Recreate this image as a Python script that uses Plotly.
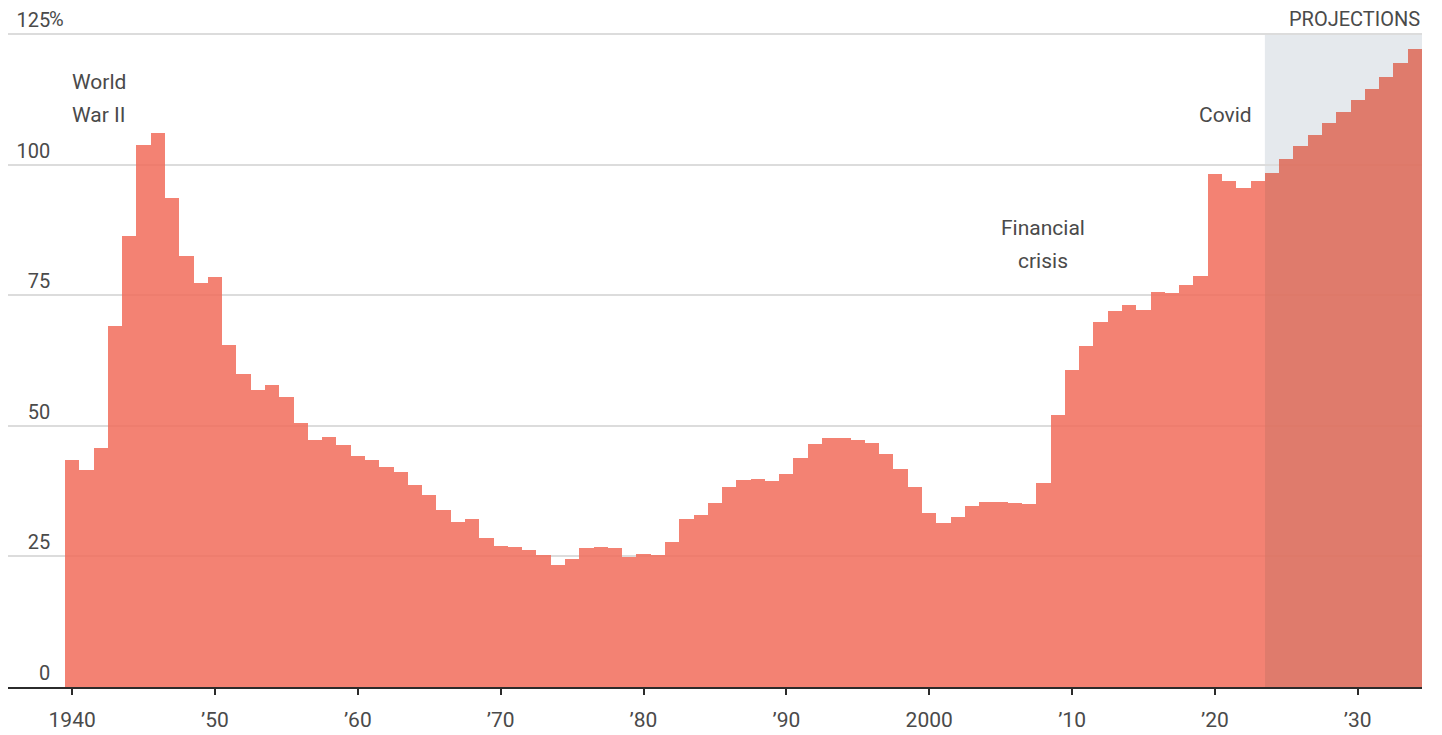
import plotly.graph_objects as go

# ---- data ----
years = list(range(1940, 2035))
debt_pct_gdp = [
    43.5, 41.5, 45.7, 69.2, 86.3, 103.7, 106.0, 93.7, 82.6, 77.3,   # 1940s
    78.4, 65.4, 59.9, 56.9, 57.8, 55.6, 50.6, 47.2, 47.8, 46.3,     # 1950s
    44.2, 43.5, 42.2, 41.1, 38.7, 36.8, 33.9, 31.6, 32.1, 28.5,     # 1960s
    27.0, 26.8, 26.3, 25.2, 23.3, 24.6, 26.6, 26.8, 26.6, 24.9,     # 1970s
    25.4, 25.2, 27.8, 32.1, 32.9, 35.2, 38.3, 39.6, 39.9, 39.4,     # 1980s
    40.7, 43.9, 46.5, 47.6, 47.6, 47.3, 46.8, 44.6, 41.7, 38.2,     # 1990s
    33.4, 31.4, 32.6, 34.6, 35.5, 35.5, 35.2, 35.0, 39.0, 52.1,     # 2000s
    60.6, 65.3, 69.8, 71.9, 73.2, 72.2, 75.7, 75.5, 77.0, 78.7,     # 2010s
    98.3, 96.8, 95.5, 96.9, 98.5, 101.1, 103.5, 105.6, 108.0, 110.0,  # 2020s
    112.3, 114.4, 116.8, 119.5, 122.1,                              # 2030-34
]
projection_start = 2024

x_tick_vals = [1940, 1950, 1960, 1970, 1980, 1990, 2000, 2010, 2020, 2030]
x_tick_text = ["1940", "\u201950", "\u201960", "\u201970", "\u201980", "\u201990",
               "2000", "\u201910", "\u201920", "\u201930"]
y_tick_vals = [0, 25, 50, 75, 100, 125]
y_tick_text = ["0", "25", "50", "75", "100", "125"]

# ---- style ----
FONT = "Roboto, 'Open Sans', sans-serif"
TEXT_COLOR = "#4a4a4a"
HIST_COLOR = "rgba(241,108,91,0.85)"
PROJ_COLOR = "rgba(222,103,85,0.85)"
Y_AXIS_POS = 0.0299

colors = [PROJ_COLOR if y >= projection_start else HIST_COLOR for y in years]

fig = go.Figure()
fig.add_trace(go.Bar(
    x=years, y=debt_pct_gdp, width=1,
    marker=dict(color=colors, line=dict(width=0)),
    hoverinfo="x+y", showlegend=False,
))

# projections shading
fig.add_shape(type="rect", xref="x", yref="y",
              x0=projection_start - 0.5, x1=years[-1] + 0.5, y0=0, y1=125,
              fillcolor="rgba(225,229,234,0.85)", line=dict(width=0), layer="below")

ann_font = dict(family=FONT, size=21, color=TEXT_COLOR)
annotations = [
    dict(x=1939.85, y=115.9, text="World", xanchor="left", yanchor="middle"),
    dict(x=1939.85, y=109.6, text="War II", xanchor="left", yanchor="middle"),
    dict(x=2008, y=87.9, text="Financial", xanchor="center", yanchor="middle"),
    dict(x=2008, y=81.6, text="crisis", xanchor="center", yanchor="middle"),
    dict(x=2022.75, y=109.6, text="Covid", xanchor="right", yanchor="middle"),
    dict(x=years[-1] + 0.5, y=125, text="PROJECTIONS", xanchor="right",
         yanchor="bottom", yshift=1, font=dict(family=FONT, size=20, color=TEXT_COLOR)),
    dict(x=Y_AXIS_POS, xref="paper", y=125, text="%", xanchor="left", yanchor="bottom",
         yshift=1, xshift=-3, font=dict(family=FONT, size=20, color=TEXT_COLOR)),
]
for a in annotations:
    a.setdefault("xref", "x")
    a.setdefault("yref", "y")
    a.setdefault("font", ann_font)
    a["showarrow"] = False

fig.update_layout(
    width=1442, height=735,
    margin=dict(l=0, r=28, t=24, b=56),
    paper_bgcolor="white", plot_bgcolor="white",
    bargap=0,
    font=dict(family=FONT, color=TEXT_COLOR),
    annotations=annotations,
    xaxis=dict(
        range=[1935.51, 2034.5],
        tickmode="array", tickvals=x_tick_vals, ticktext=x_tick_text,
        tickfont=dict(family=FONT, size=21, color=TEXT_COLOR),
        ticklabelstandoff=7,
        showgrid=False, zeroline=False,
        showline=True, linecolor="#2b2b2b", linewidth=2,
        ticks="outside", ticklen=6, tickwidth=1.5, tickcolor="#2b2b2b",
        anchor="y", fixedrange=True,
    ),
    yaxis=dict(
        range=[0, 125.4],
        tickmode="array", tickvals=y_tick_vals, ticktext=y_tick_text,
        tickfont=dict(family=FONT, size=20, color=TEXT_COLOR),
        ticklabelposition="outside top",
        anchor="free", position=Y_AXIS_POS,
        showgrid=True, gridcolor="#dcdcdc", gridwidth=1.5,
        zeroline=False, showline=False, ticks="",
        fixedrange=True,
    ),
)

fig.write_html("out.html")
